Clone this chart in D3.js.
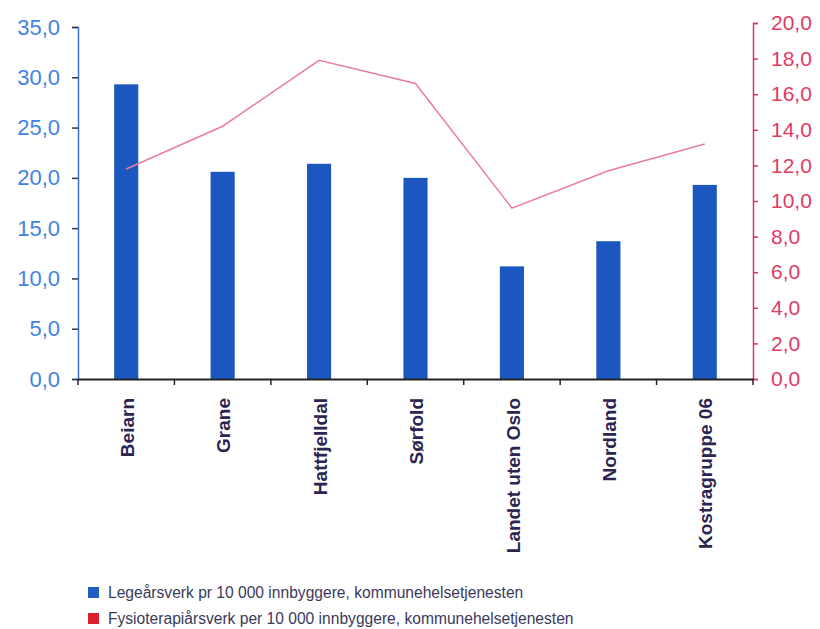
<!DOCTYPE html>
<html><head><meta charset="utf-8">
<script src="https://cdn.jsdelivr.net/npm/d3@7"></script>
<style>body{margin:0;background:#fff}svg{display:block}</style>
</head><body><svg id="c" width="820" height="629"></svg>
<script>
const categories = ["Beiarn","Grane","Hattfjelldal","Sørfold","Landet uten Oslo","Nordland","Kostragruppe 06"];
const legeValues = [29.3,20.6,21.4,20.0,11.2,13.7,19.3];
const fysioValues = [11.8,14.2,17.9,16.6,9.6,11.7,13.2];
const leftTicks = [0,5,10,15,20,25,30,35];
const rightTicks = [0,2,4,6,8,10,12,14,16,18,20];
const legendLabels = ["Legeårsverk pr 10 000 innbyggere, kommunehelsetjenesten","Fysioterapiårsverk per 10 000 innbyggere, kommunehelsetjenesten"];

const svg = d3.select("#c");
const font = "'Liberation Sans', Arial, sans-serif";
const x0 = 78, x1 = 753, base = 379;
const x = d3.scaleBand().domain(categories).range([x0, x1]).paddingInner(0.75).paddingOuter(0.375);
const xb = d3.scaleBand().domain(categories).range([x0, x1]);
const yL = d3.scaleLinear().domain([0,35]).range([base, 27]);
const yR = d3.scaleLinear().domain([0,20]).range([base, 23]);
const fmt = d => d3.format(".1f")(d).replace(".", ",");

// bars
svg.append("g").selectAll("rect").data(categories).join("rect")
  .attr("x", d => x(d)).attr("width", x.bandwidth())
  .attr("y", (d,i) => yL(legeValues[i])).attr("height", (d,i) => base - yL(legeValues[i]))
  .attr("fill", "#1b57be");

// left axis
const gl = svg.append("g").attr("transform", `translate(${x0},0)`)
  .call(d3.axisLeft(yL).tickValues(leftTicks).tickFormat(fmt).tickSize(6).tickPadding(12));
gl.select(".domain").attr("stroke", "#3d6fc8").attr("stroke-width", 1.5);
gl.selectAll(".tick line").attr("stroke", "#334").attr("stroke-width", 1.5);
gl.selectAll("text").attr("fill", "#3f82e4").style("font", `22px ${font}`);

// right axis
const gr = svg.append("g").attr("transform", `translate(${x1},0)`)
  .call(d3.axisRight(yR).tickValues(rightTicks).tickFormat(fmt).tickSize(5).tickPadding(13));
gr.select(".domain").attr("stroke", "#d9365f").attr("stroke-width", 1.5);
gr.selectAll(".tick line").attr("stroke", "#d9365f").attr("stroke-width", 1.5);
gr.selectAll("text").attr("fill", "#e23a64").style("font", `21px ${font}`);

// x axis
const gx = svg.append("g").attr("transform", `translate(0,${base})`)
  .call(d3.axisBottom(xb).tickValues([]).tickSizeOuter(0));
gx.select(".domain").attr("stroke", "#222").attr("stroke-width", 2);
const bounds = categories.map(c => xb(c)).concat([x1]);
gx.selectAll("line.sep").data(bounds).join("line").attr("class","sep")
  .attr("x1", d => d).attr("x2", d => d).attr("y1", 0).attr("y2", 6)
  .attr("stroke", "#222").attr("stroke-width", 1.5);
gx.selectAll("text.lab").data(categories).join("text").attr("class","lab")
  .attr("transform", d => `translate(${x(d) + x.bandwidth()/2 + 1},19) rotate(-90)`)
  .attr("text-anchor", "end").attr("dy", "0.35em")
  .attr("fill", "#2b2550").style("font", `bold 19px ${font}`)
  .text(d => d);

// line
const line = d3.line().x(d => x(d[0]) + x.bandwidth()/2).y(d => yR(d[1]));
svg.append("path").datum(categories.map((c,i) => [c, fysioValues[i]]))
  .attr("d", line).attr("fill", "none").attr("stroke", "#e97d9d").attr("stroke-width", 1.5);

// legend
const colors = ["#1f5fc4", "#d9202c"];
const lg = svg.append("g").selectAll("g").data(legendLabels).join("g")
  .attr("transform", (d,i) => `translate(88,${587 + i*26})`);
lg.append("rect").attr("width", 11).attr("height", 11).attr("fill", (d,i) => colors[i]);
lg.append("text").attr("x", 20).attr("y", 11).attr("fill", "#3a3a5a")
  .style("font", `15.6px ${font}`).text(d => d);
</script></body></html>
